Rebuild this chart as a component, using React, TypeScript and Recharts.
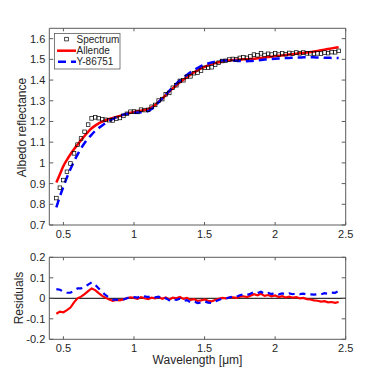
import { ComposedChart, Line, Scatter, XAxis, YAxis, ReferenceArea, ReferenceLine } from 'recharts';

// wavelength grid of the measured spectrum (µm)
const WAVELENGTH = [
  0.45, 0.475, 0.5, 0.525, 0.55, 0.575, 0.6, 0.625, 0.65, 0.675,
  0.7, 0.725, 0.75, 0.775, 0.8, 0.825, 0.85, 0.875, 0.9, 0.925,
  0.95, 0.975, 1, 1.025, 1.05, 1.075, 1.1, 1.125, 1.15, 1.175,
  1.2, 1.225, 1.25, 1.275, 1.3, 1.325, 1.35, 1.375, 1.4, 1.425,
  1.45, 1.475, 1.5, 1.525, 1.55, 1.575, 1.6, 1.625, 1.65, 1.675,
  1.7, 1.725, 1.75, 1.775, 1.8, 1.825, 1.85, 1.875, 1.9, 1.925,
  1.95, 1.975, 2, 2.025, 2.05, 2.075, 2.1, 2.125, 2.15, 2.175,
  2.2, 2.225, 2.25, 2.275, 2.3, 2.325, 2.35, 2.375, 2.4, 2.425,
  2.45,
];

const SPECTRUM = [
  0.83, 0.88, 0.917, 0.957, 0.997, 1.046, 1.088, 1.118, 1.15, 1.185,
  1.215, 1.22, 1.216, 1.211, 1.208, 1.206, 1.205, 1.214, 1.217, 1.227,
  1.237, 1.247, 1.248, 1.246, 1.257, 1.255, 1.256, 1.271, 1.28, 1.301,
  1.308, 1.331, 1.338, 1.363, 1.375, 1.396, 1.399, 1.416, 1.418, 1.433,
  1.435, 1.446, 1.459, 1.459, 1.462, 1.474, 1.484, 1.492, 1.493, 1.499,
  1.502, 1.5, 1.507, 1.51, 1.507, 1.514, 1.523, 1.52, 1.529, 1.521,
  1.527, 1.523, 1.529, 1.523, 1.529, 1.525, 1.531, 1.528, 1.533, 1.529,
  1.533, 1.529, 1.529, 1.528, 1.529, 1.528, 1.533, 1.53, 1.535, 1.534,
  1.541,
];

const ALLENDE = [
  0.905, 0.945, 0.985, 1.015, 1.042, 1.066, 1.088, 1.11, 1.13, 1.15,
  1.167, 1.18, 1.191, 1.199, 1.206, 1.212, 1.217, 1.222, 1.227, 1.232,
  1.237, 1.242, 1.246, 1.249, 1.252, 1.255, 1.26, 1.268, 1.28, 1.295,
  1.31, 1.327, 1.344, 1.36, 1.375, 1.389, 1.402, 1.414, 1.426, 1.437,
  1.447, 1.456, 1.464, 1.471, 1.477, 1.482, 1.486, 1.49, 1.493, 1.495,
  1.497, 1.498, 1.499, 1.5, 1.501, 1.502, 1.503, 1.505, 1.507, 1.509,
  1.511, 1.513, 1.515, 1.517, 1.519, 1.521, 1.523, 1.525, 1.527, 1.529,
  1.531, 1.533, 1.535, 1.538, 1.541, 1.544, 1.547, 1.55, 1.553, 1.556,
  1.559,
];

const Y86751 = [
  0.785, 0.838, 0.885, 0.93, 0.97, 1.007, 1.04, 1.07, 1.096, 1.118,
  1.137, 1.154, 1.168, 1.181, 1.193, 1.203, 1.212, 1.22, 1.227, 1.233,
  1.237, 1.24, 1.242, 1.243, 1.244, 1.246, 1.25, 1.26, 1.275, 1.293,
  1.311, 1.33, 1.348, 1.366, 1.383, 1.398, 1.412, 1.425, 1.437, 1.448,
  1.458, 1.467, 1.474, 1.48, 1.485, 1.489, 1.492, 1.494, 1.495, 1.495,
  1.494, 1.493, 1.492, 1.491, 1.491, 1.492, 1.493, 1.495, 1.497, 1.499,
  1.501, 1.502, 1.503, 1.504, 1.505, 1.506, 1.507, 1.508, 1.509, 1.509,
  1.51, 1.51, 1.51, 1.51, 1.509, 1.509, 1.508, 1.508, 1.507, 1.507,
  1.506,
];

const X_TICKS = [0.5, 1, 1.5, 2, 2.5];
const ALBEDO_TICKS = [0.7, 0.8, 0.9, 1, 1.1, 1.2, 1.3, 1.4, 1.5, 1.6];
const RESID_TICKS = [-0.2, -0.1, 0, 0.1, 0.2];

const FONT = '"Liberation Sans", Arial, Helvetica, sans-serif';
const AXIS = '#5c5c5c';
const TEXT = '#262626';
const RED = '#ff0000';
const BLUE = '#0000ff';

// plot boxes in page pixels
const LEFT = 49.3;
const RIGHT = 345.7;
const TOP_A = 28.3;
const BOTTOM_A = 225;
const TOP_B = 257.3;
const BOTTOM_B = 339.3;

const fmt = (v: number) => String(Number(v.toFixed(2)));

const topData = WAVELENGTH.map((x, i) => ({
  x,
  spec: SPECTRUM[i],
  allende: ALLENDE[i],
  y86751: Y86751[i],
}));

const residData = WAVELENGTH.map((x, i) => ({
  x,
  rAllende: SPECTRUM[i] - ALLENDE[i],
  rY86751: SPECTRUM[i] - Y86751[i],
}));

function xTick(top: number, bottom: number) {
  return (props: any) => {
    const { x, payload } = props;
    return (
      <g>
        <line x1={x} x2={x} y1={bottom} y2={bottom - 3} stroke={AXIS} />
        <line x1={x} x2={x} y1={top} y2={top + 3} stroke={AXIS} />
        <text x={x} y={bottom + 13} textAnchor="middle" fill={TEXT} fontSize={11} fontFamily={FONT}>
          {fmt(payload.value)}
        </text>
      </g>
    );
  };
}

const yTick = (props: any) => {
  const { y, payload } = props;
  return (
    <g>
      <line x1={LEFT} x2={LEFT + 4} y1={y} y2={y} stroke={AXIS} />
      <line x1={RIGHT} x2={RIGHT - 4} y1={y} y2={y} stroke={AXIS} />
      <text x={LEFT - 4} y={y + 4} textAnchor="end" fill={TEXT} fontSize={11} fontFamily={FONT}>
        {fmt(payload.value)}
      </text>
    </g>
  );
};

const square = (props: any) => {
  const { cx, cy } = props;
  return <rect x={cx - 1.8} y={cy - 1.8} width={3.6} height={3.6} fill="none" stroke="#000" strokeWidth={0.7} />;
};

function vTitle(text: string, x: number, y: number) {
  return () => (
    <text x={x} y={y} transform={`rotate(-90 ${x} ${y})`} textAnchor="middle" dominantBaseline="central"
      fill={TEXT} fontSize={12} fontFamily={FONT}>
      {text}
    </text>
  );
}

function Legend() {
  return (
    <svg width={67} height={37} style={{ position: 'absolute', left: 54, top: 33 }}>
      <rect x={0.5} y={0.5} width={65.5} height={35.5} fill="#fff" stroke={AXIS} strokeWidth={0.8} />
      <rect x={10.7} y={4.3} width={3.6} height={3.6} fill="none" stroke="#000" strokeWidth={0.7} />
      <text x={22.5} y={9.8} fontSize={10} fontFamily={FONT} fill={TEXT}>Spectrum</text>
      <line x1={3} x2={22} y1={17.7} y2={17.7} stroke={RED} strokeWidth={2.5} />
      <text x={22.5} y={21.2} fontSize={10} fontFamily={FONT} fill={TEXT}>Allende</text>
      <line x1={4} x2={22} y1={28.7} y2={28.7} stroke={BLUE} strokeWidth={2.5} strokeDasharray="8 5" />
      <text x={22.5} y={32.2} fontSize={10} fontFamily={FONT} fill={TEXT}>Y-86751</text>
    </svg>
  );
}

export default function App() {
  return (
    <div style={{ position: 'absolute', left: 0, top: 0, width: 382, height: 382, background: '#fff' }}>
      <div style={{ position: 'absolute', left: 0, top: 0 }}>
        <ComposedChart
          width={382}
          height={382}
          data={topData}
          margin={{ top: TOP_A, right: 382 - RIGHT, bottom: 382 - BOTTOM_A - 30, left: 0 }}
        >
          <XAxis
            dataKey="x"
            type="number"
            domain={[0.4, 2.5]}
            ticks={X_TICKS}
            interval={0}
            allowDataOverflow
            axisLine={false}
            tickLine={false}
            height={30}
            tick={xTick(TOP_A, BOTTOM_A)}
          />
          <YAxis
            type="number"
            domain={[0.7, 1.65]}
            ticks={ALBEDO_TICKS}
            interval={0}
            allowDataOverflow
            axisLine={false}
            tickLine={false}
            width={LEFT}
            tick={yTick}
            label={vTitle('Albedo reflectance', 22, 127.5)}
          />
          <ReferenceArea x1={0.4} x2={2.5} y1={0.7} y2={1.65} fill="none" stroke={AXIS} strokeWidth={1} />
          <Scatter dataKey="spec" shape={square} isAnimationActive={false} />
          <Line dataKey="allende" type="monotone" stroke={RED} strokeWidth={2.5} dot={false} isAnimationActive={false} />
          <Line dataKey="y86751" type="monotone" stroke={BLUE} strokeWidth={2.5} strokeDasharray="8 5" dot={false} isAnimationActive={false} />
        </ComposedChart>
      </div>
      <div style={{ position: 'absolute', left: 0, top: 0 }}>
        <ComposedChart
          width={382}
          height={382}
          data={residData}
          margin={{ top: TOP_B, right: 382 - RIGHT, bottom: 382 - BOTTOM_B - 30, left: 0 }}
        >
          <XAxis
            dataKey="x"
            type="number"
            domain={[0.4, 2.5]}
            ticks={X_TICKS}
            interval={0}
            allowDataOverflow
            axisLine={false}
            tickLine={false}
            height={30}
            tick={xTick(TOP_B, BOTTOM_B)}
            label={() => (
              <text x={197.5} y={364} textAnchor="middle" fill={TEXT} fontSize={12} fontFamily={FONT}>
                Wavelength [μm]
              </text>
            )}
          />
          <YAxis
            type="number"
            domain={[-0.2, 0.2]}
            ticks={RESID_TICKS}
            interval={0}
            allowDataOverflow
            axisLine={false}
            tickLine={false}
            width={LEFT}
            tick={yTick}
            label={vTitle('Residuals', 18.5, 298)}
          />
          <ReferenceArea x1={0.4} x2={2.5} y1={-0.2} y2={0.2} fill="none" stroke={AXIS} strokeWidth={1} />
          <ReferenceLine y={0} stroke="#000" strokeWidth={1} />
          <Line dataKey="rAllende" type="linear" stroke={RED} strokeWidth={2.2} dot={false} isAnimationActive={false} />
          <Line dataKey="rY86751" type="linear" stroke={BLUE} strokeWidth={2.2} strokeDasharray="6 5" dot={false} isAnimationActive={false} />
        </ComposedChart>
      </div>
      <Legend />
    </div>
  );
}
